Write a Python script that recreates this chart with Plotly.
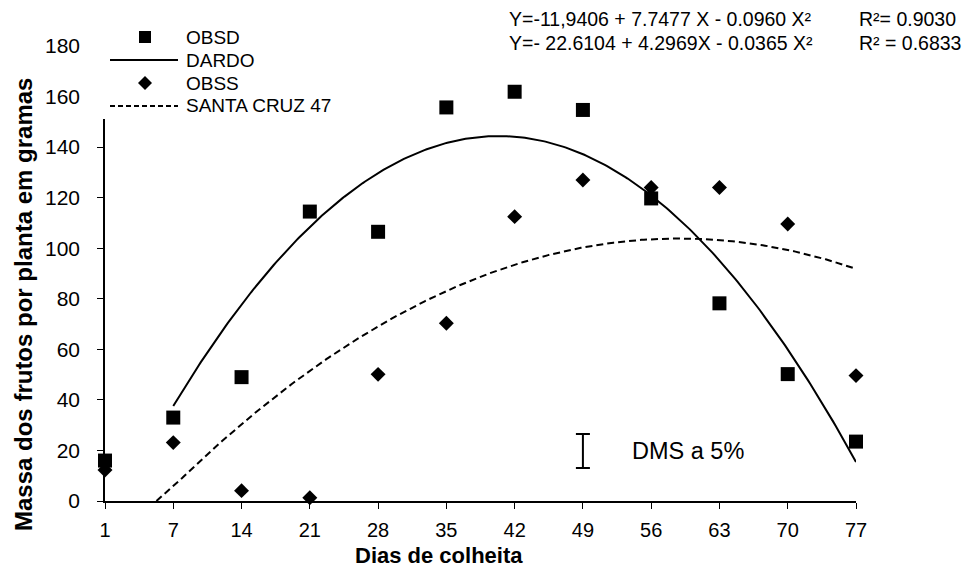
import numpy as np
import plotly.graph_objects as go

# Harvest days (category axis) and observed fruit mass per plant (g)
dias = [1, 7, 14, 21, 28, 35, 42, 49, 56, 63, 70, 77]
obsd = [16, 33, 49, 114.5, 106.5, 155.7, 161.9, 154.7, 119.7, 78.2, 50.2, 23.5]
obss = [12.3, 23.1, 4.1, 1.3, 50.1, 70.3, 112.5, 127, 124, 124, 109.6, 49.6]

# Quadratic regression coefficients (b0, b1, b2) shown in the equations
coef_dardo = [-11.9406, 7.7477, -0.0960]
coef_santa = [-22.6104, 4.2969, -0.0365]
r2_dardo = 0.9030
r2_santa = 0.6833

# Least significant difference bar (centre and half-width, g) at 49 days
dms_dia = 49
dms_centro = 19.8
dms_meia = 6.7

y_ticks = [0, 20, 40, 60, 80, 100, 120, 140, 160, 180]

FONT = "Liberation Sans, Arial, sans-serif"

# plot area in pixels
L, R, T, B = 105, 856, 46, 501
PW, PH = R - L, B - T


def fx(px):
    return (px - L) / PW


def fy(py):
    return (B - py) / PH


pos = list(range(len(dias)))


def to_pos(d):
    # harvest days sit on evenly spaced categories
    return np.interp(d, dias, pos)


def quad(c, x):
    return c[0] + c[1] * x + c[2] * x ** 2


# fitted curves
xd = np.linspace(7, 77, 300)
yd = quad(coef_dardo, xd)

b0, b1, b2 = coef_santa
x0 = (-b1 + np.sqrt(b1 ** 2 - 4 * b2 * b0)) / (2 * b2)
xs = np.linspace(x0, 77, 300)
ys = quad(coef_santa, xs)

fig = go.Figure()

fig.add_trace(go.Scatter(x=to_pos(xd), y=yd, mode="lines",
                         line=dict(color="black", width=2), name="DARDO"))
fig.add_trace(go.Scatter(x=to_pos(xs), y=ys, mode="lines",
                         line=dict(color="black", width=2, dash="7px,4px"),
                         name="SANTA CRUZ 47"))
fig.add_trace(go.Scatter(x=pos, y=obss, mode="markers",
                         marker=dict(symbol="diamond", size=11.5, color="black"),
                         cliponaxis=False, name="OBSS"))
fig.add_trace(go.Scatter(x=pos, y=obsd, mode="markers",
                         marker=dict(symbol="square", size=14, color="black"),
                         cliponaxis=False, name="OBSD"))

# DMS bar
fig.add_trace(go.Scatter(x=[to_pos(dms_dia)], y=[dms_centro], mode="markers",
                         marker=dict(size=0.1, color="black"),
                         error_y=dict(type="constant", value=dms_meia,
                                      color="black", thickness=2, width=7),
                         name="DMS"))

annotations = []
shapes = []

# legend block
shapes.append(dict(type="rect", xref="paper", yref="paper",
                   x0=fx(92), x1=fx(345), y0=fy(119), y1=fy(24),
                   fillcolor="white", line=dict(width=0), layer="above"))
leg_rows = [37, 60, 83, 106]
leg_names = ["OBSD", "DARDO", "OBSS", "SANTA CRUZ 47"]
shapes.append(dict(type="rect", xref="paper", yref="paper",
                   x0=fx(139), x1=fx(151), y0=fy(leg_rows[0] + 6), y1=fy(leg_rows[0] - 6),
                   fillcolor="black", line=dict(width=0), layer="above"))
shapes.append(dict(type="line", xref="paper", yref="paper",
                   x0=fx(110), x1=fx(178), y0=fy(leg_rows[1]), y1=fy(leg_rows[1]),
                   line=dict(color="black", width=2), layer="above"))
cx, cy, h = 145, leg_rows[2], 7
shapes.append(dict(type="path", xref="paper", yref="paper",
                   path=f"M {fx(cx-h)} {fy(cy)} L {fx(cx)} {fy(cy-h)} L {fx(cx+h)} {fy(cy)} L {fx(cx)} {fy(cy+h)} Z",
                   fillcolor="black", line=dict(width=0), layer="above"))
shapes.append(dict(type="line", xref="paper", yref="paper",
                   x0=fx(110), x1=fx(178), y0=fy(leg_rows[3]), y1=fy(leg_rows[3]),
                   line=dict(color="black", width=2, dash="5px,3px"), layer="above"))
for row, name in zip(leg_rows, leg_names):
    annotations.append(dict(x=fx(184), y=fy(row), xref="paper", yref="paper",
                            text=name, showarrow=False, xanchor="left", yanchor="middle",
                            font=dict(family=FONT, size=19, color="black")))

# regression equations
eq1 = f"Y=-11,9406 + {coef_dardo[1]:.4f} X - {abs(coef_dardo[2]):.4f} X²"
eq2 = f"Y=- {abs(coef_santa[0]):.4f} + {coef_santa[1]:.4f}X - {abs(coef_santa[2]):.4f} X²"
for text, py in [(eq1, 19), (eq2, 43)]:
    annotations.append(dict(x=fx(507), y=fy(py), xref="paper", yref="paper", text=text,
                            showarrow=False, xanchor="left", yanchor="middle",
                            font=dict(family=FONT, size=19.5, color="black")))
annotations.append(dict(x=fx(857), y=fy(19), xref="paper", yref="paper",
                        text=f"R²= {r2_dardo:.4f}", showarrow=False, xanchor="left",
                        yanchor="middle", font=dict(family=FONT, size=19.5, color="black")))
annotations.append(dict(x=fx(857), y=fy(43), xref="paper", yref="paper",
                        text=f"R² = {r2_santa:.4f}", showarrow=False, xanchor="left",
                        yanchor="middle", font=dict(family=FONT, size=19.5, color="black")))

# DMS label
annotations.append(dict(x=fx(630), y=dms_centro, xref="paper", yref="y",
                        text="DMS a 5%", showarrow=False, xanchor="left", yanchor="middle",
                        font=dict(family=FONT, size=23.5, color="black")))

# axis titles
annotations.append(dict(x=fx(23), y=fy(305), xref="paper", yref="paper",
                        text="<b>Massa dos frutos por planta em gramas</b>", textangle=-90,
                        showarrow=False, xanchor="center", yanchor="middle",
                        font=dict(family=FONT, size=24, color="black")))
annotations.append(dict(x=fx(439), y=fy(570), xref="paper", yref="paper",
                        text="<b>Dias de colheita</b>", showarrow=False,
                        xanchor="center", yanchor="bottom",
                        font=dict(family=FONT, size=22, color="black")))

fig.update_layout(
    width=966, height=570,
    margin=dict(l=L, r=966 - R, t=T, b=570 - B, pad=0),
    paper_bgcolor="white", plot_bgcolor="white",
    showlegend=False,
    font=dict(family=FONT, size=20, color="black"),
    annotations=annotations,
    shapes=shapes,
)
fig.update_xaxes(range=[0, len(dias) - 1], tickmode="array", tickvals=pos,
                 ticktext=[str(d) for d in dias], showline=True, linecolor="black",
                 linewidth=1.5, ticks="outside", ticklen=6, tickcolor="black",
                 ticklabelstandoff=4,
                 showgrid=False, zeroline=False, fixedrange=True,
                 tickfont=dict(family=FONT, size=20, color="black"))
fig.update_yaxes(range=[0, 180], tickmode="array", tickvals=y_ticks,
                 showline=True, linecolor="black", linewidth=1.5,
                 ticks="outside", ticklen=6, tickcolor="black",
                 ticklabelstandoff=13,
                 showgrid=False, zeroline=False, fixedrange=True,
                 tickfont=dict(family=FONT, size=21, color="black"))

fig.write_html("out.html")
